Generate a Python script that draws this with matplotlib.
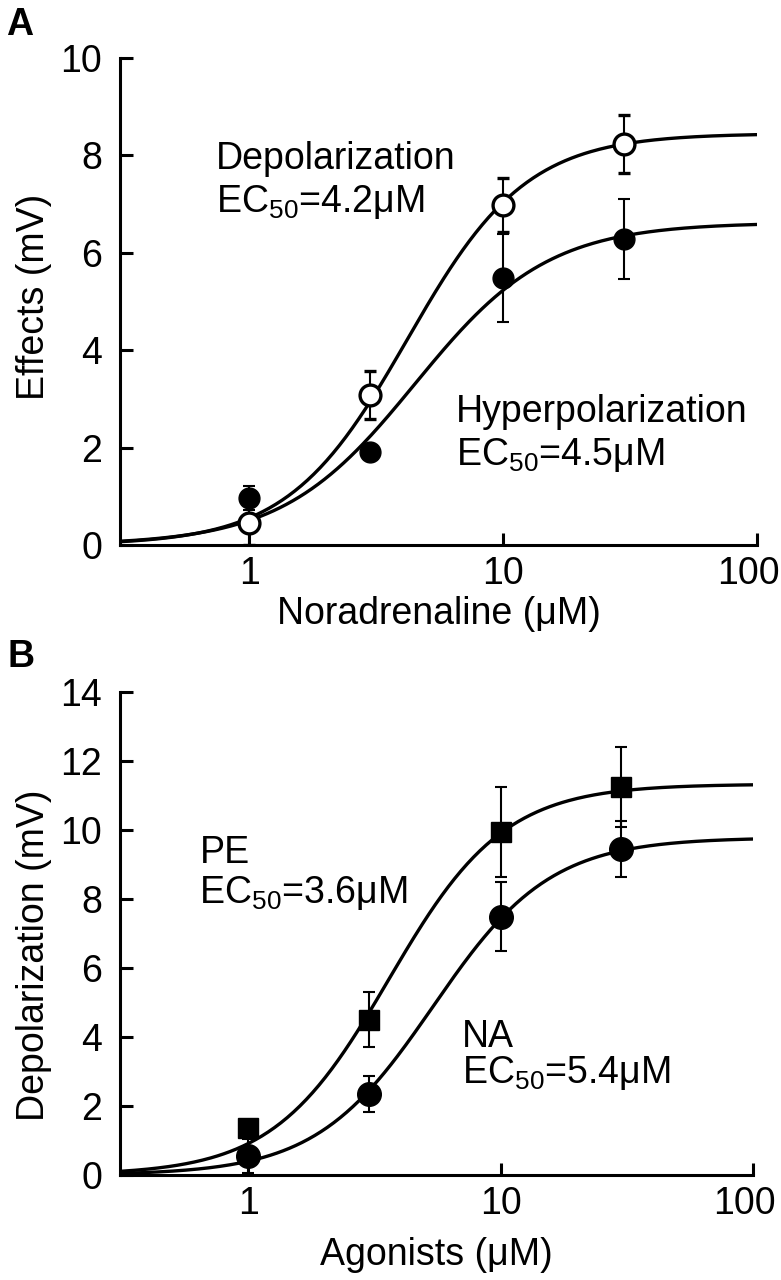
import numpy as np
import matplotlib
matplotlib.use("Agg")
import matplotlib.pyplot as plt
from matplotlib.transforms import ScaledTranslation

plt.rcParams['font.family'] = ['Liberation Sans', 'DejaVu Sans']
plt.rcParams['mathtext.default'] = 'regular'

# Panel A: noradrenaline responses
conc = [1, 3, 10, 30]
depol_mean = [0.45, 3.08, 6.98, 8.23]
depol_err = [0.45, 0.5, 0.55, 0.6]
hyper_mean = [0.97, 1.9, 5.48, 6.28]
hyper_err = [0.25, 0.0, 0.9, 0.82]

# Hill fit parameters (Emax, EC50, slope)
depol_fit = (8.45, 4.2, 1.85)
hyper_fit = (6.62, 4.5, 1.66)

# Panel B: agonists
pe_mean = [1.35, 4.5, 9.95, 11.25]
pe_err = [0.0, 0.8, 1.3, 1.15]
na_mean = [0.55, 2.35, 7.48, 9.45]
na_err = [0.5, 0.52, 1.0, 0.8]
pe_fit = (11.33, 3.6, 1.9)
na_fit = (9.78, 5.4, 1.87)


def hill(x, emax, ec50, n):
    return emax / (1 + (ec50 / x) ** n)


xfit = np.logspace(np.log10(0.31), 2, 300)

fig = plt.figure(figsize=(7.81, 12.8), dpi=100)
axA = fig.add_axes([120/781, 1-545/1280, 637/781, 487/1280])
axB = fig.add_axes([120/781, 1-1175/1280, 633/781, 483/1280])

LW = 2.4
FS = 27


def style(ax, ymax, ystep):
    ax.set_xscale('log')
    ax.set_xlim(0.31, 100)
    ax.set_ylim(0, ymax)
    ax.set_xticks([1, 10, 100])
    ax.set_xticklabels(['1', '10', '100'])
    ax.xaxis.set_minor_locator(matplotlib.ticker.NullLocator())
    ax.set_yticks(np.arange(0, ymax + 0.1, ystep))
    for s in ['top', 'right']:
        ax.spines[s].set_visible(False)
    for s in ['left', 'bottom']:
        ax.spines[s].set_linewidth(2.2)
    ax.tick_params(direction='in', length=9, width=2.2, labelsize=FS)
    ax.tick_params(axis='y', pad=13)
    ax.tick_params(axis='x', pad=8)
    # last x label sits at the figure edge, nudge it left a bit
    lab = ax.get_xticklabels()[-1]
    lab.set_transform(lab.get_transform() + ScaledTranslation(-9/100, 0, fig.dpi_scale_trans))


# --- Panel A
axA.plot(xfit, hill(xfit, *depol_fit), color='black', lw=LW, zorder=2)
axA.plot(xfit, hill(xfit, *hyper_fit), color='black', lw=LW, zorder=2)
axA.errorbar(conc, hyper_mean, yerr=hyper_err, fmt='o', color='black', ms=15,
             elinewidth=1.5, capsize=4, capthick=1.5, zorder=3)
axA.errorbar(conc, depol_mean, yerr=depol_err, fmt='o', mfc='white', mec='black',
             mew=2.4, color='black', ms=15, elinewidth=1.5, capsize=4, capthick=1.5, zorder=4)
style(axA, 10, 2)
axA.set_ylabel('Effects (mV)', fontsize=FS, labelpad=6)
axA.yaxis.label.set_y(0.51)
axA.set_xlabel('Noradrenaline (\u03bcM)', fontsize=FS, labelpad=3)
axA.text(0.74, 7.72, 'Depolarization', fontsize=FS, va='baseline', ha='left')
axA.text(0.74, 6.84, 'EC$_{50}$=4.2\u03bcM', fontsize=FS, va='baseline', ha='left')
axA.text(6.5, 2.52, 'Hyperpolarization', fontsize=FS, va='baseline', ha='left')
axA.text(6.5, 1.64, 'EC$_{50}$=4.5\u03bcM', fontsize=FS, va='baseline', ha='left')

# --- Panel B
axB.plot(xfit, hill(xfit, *pe_fit), color='black', lw=LW, zorder=2)
axB.plot(xfit, hill(xfit, *na_fit), color='black', lw=LW, zorder=2)
axB.errorbar(conc, pe_mean, yerr=pe_err, fmt='s', color='black', ms=14,
             elinewidth=1.5, capsize=4, capthick=1.5, zorder=3)
axB.errorbar(conc, na_mean, yerr=na_err, fmt='o', color='black', ms=17,
             elinewidth=1.5, capsize=4, capthick=1.5, zorder=3)
style(axB, 14, 2)
axB.set_ylabel('Depolarization (mV)', fontsize=FS, labelpad=6)
axB.yaxis.label.set_y(0.455)
axB.set_xlabel('Agonists (\u03bcM)', fontsize=FS, labelpad=11)
axB.text(0.64, 9.04, 'PE', fontsize=FS, va='baseline', ha='left')
axB.text(0.64, 7.88, 'EC$_{50}$=3.6\u03bcM', fontsize=FS, va='baseline', ha='left')
axB.text(7.0, 3.71, 'NA', fontsize=FS, va='baseline', ha='left')
axB.text(7.0, 2.67, 'EC$_{50}$=5.4\u03bcM', fontsize=FS, va='baseline', ha='left')

fig.text(6/781, 1-35/1280, 'A', fontsize=27, fontweight='bold', va='baseline', ha='left')
fig.text(7/781, 1-667/1280, 'B', fontsize=27, fontweight='bold', va='baseline', ha='left')

fig.savefig('out.png', dpi=100)
